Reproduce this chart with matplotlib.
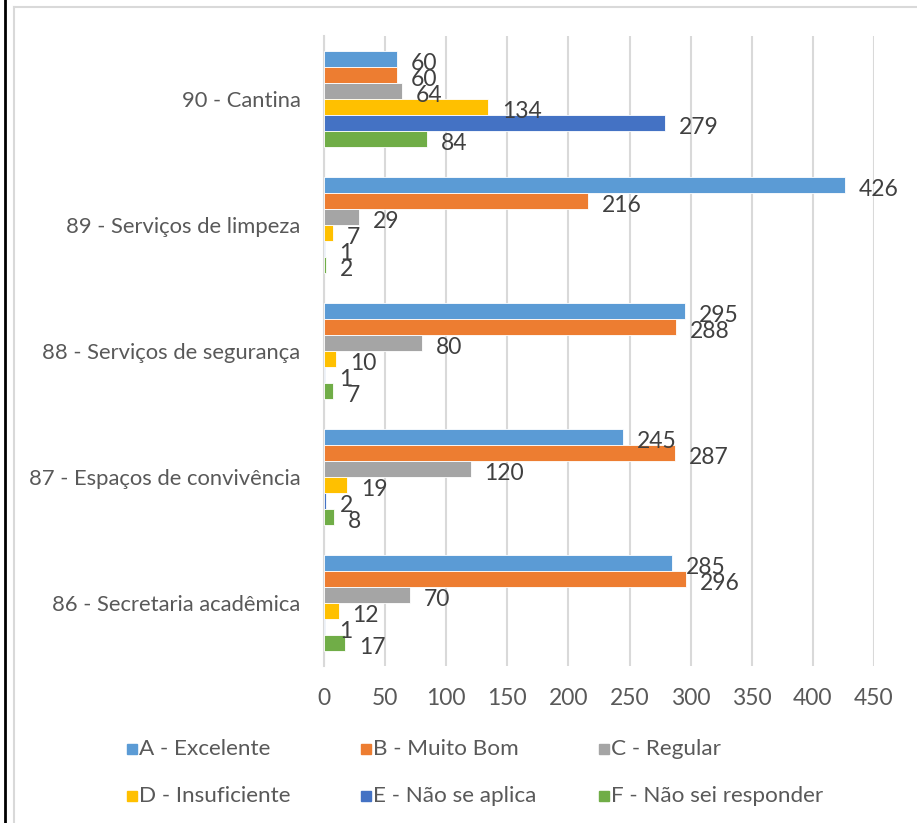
import matplotlib
matplotlib.use("Agg")
import matplotlib.pyplot as plt
from matplotlib.patches import Rectangle
from matplotlib.lines import Line2D
import numpy as np

categories = ["86 - Secretaria acadêmica", "87 - Espaços de convivência",
              "88 - Serviços de segurança", "89 - Serviços de limpeza", "90 - Cantina"]
series_names = ["A - Excelente", "B - Muito Bom", "C - Regular",
                "D - Insuficiente", "E - Não se aplica", "F - Não sei responder"]
A = [285, 245, 295, 426, 60]
B = [296, 287, 288, 216, 60]
C = [70, 120, 80, 29, 64]
D = [12, 19, 10, 7, 134]
E = [1, 2, 1, 1, 279]
F = [17, 8, 7, 2, 84]
series_values = [A, B, C, D, E, F]
xticks = [0, 50, 100, 150, 200, 250, 300, 350, 400, 450]
colors = ["#5B9BD5", "#ED7D31", "#A5A5A5", "#FFC000", "#4472C4", "#70AD47"]

FONT = ["Lato", "DejaVu Sans"]
plt.rcParams["font.family"] = FONT

W, H = 917, 823
fig = plt.figure(figsize=(W / 100, H / 100), dpi=100)
ax = fig.add_axes([324 / W, 1 - 666 / H, 550 / W, 630 / H])

y = np.arange(len(categories))
bh = 16 / 126
n = len(series_values)
for j, (vals, col) in enumerate(zip(series_values, colors)):
    offs = (n / 2 - 0.5 - j) * bh
    ax.barh(y + offs, vals, height=bh, color=col, edgecolor="white",
            linewidth=0.6, zorder=3)
    for v, yy in zip(vals, y + offs):
        ax.annotate(str(v), xy=(v, yy), xytext=(10, -3), textcoords="offset points",
                    ha="left", va="center", fontsize=16.5, color="#404040", zorder=4)

ax.set_xlim(0, 450)
ax.set_ylim(-0.5, len(categories) - 0.5)
ax.set_xticks(xticks)
ax.set_xticklabels([str(t) for t in xticks])
ax.set_yticks(y)
ax.set_yticklabels(categories)
ax.tick_params(axis="x", length=0, pad=16, labelsize=16.5, labelcolor="#595959")
ax.tick_params(axis="y", length=0, pad=17, labelsize=15.8, labelcolor="#595959")
ax.grid(axis="x", color="#D9D9D9", linewidth=1.5, zorder=0)
ax.set_axisbelow(True)
for s in ["top", "right", "bottom"]:
    ax.spines[s].set_visible(False)
ax.spines["left"].set_color("#D9D9D9")
ax.spines["left"].set_linewidth(1.5)

# legend (manual layout)
col_x = [127, 361, 599]
row_y = [749, 796]
for k, (name, col) in enumerate(zip(series_names, colors)):
    cx = col_x[k % 3]
    ry = row_y[k // 3]
    fig.patches.append(Rectangle((cx / W, 1 - (ry + 5) / H), 10 / W, 10 / H,
                                 transform=fig.transFigure, color=col, figure=fig))
    fig.text((cx + 12) / W, 1 - ry / H, name, ha="left", va="center",
             fontsize=16.2, color="#595959")

# frames
fig.add_artist(Line2D([5 / W, 5 / W], [0, 1], transform=fig.transFigure,
                      color="black", linewidth=2))
fig.add_artist(Line2D([13.5 / W, 13.5 / W], [0, 1 - 7 / H], transform=fig.transFigure,
                      color="#D9D9D9", linewidth=1.5))
fig.add_artist(Line2D([13.5 / W, 1], [1 - 7 / H, 1 - 7 / H], transform=fig.transFigure,
                      color="#D9D9D9", linewidth=1.5))

fig.savefig("out.png", dpi=100)
